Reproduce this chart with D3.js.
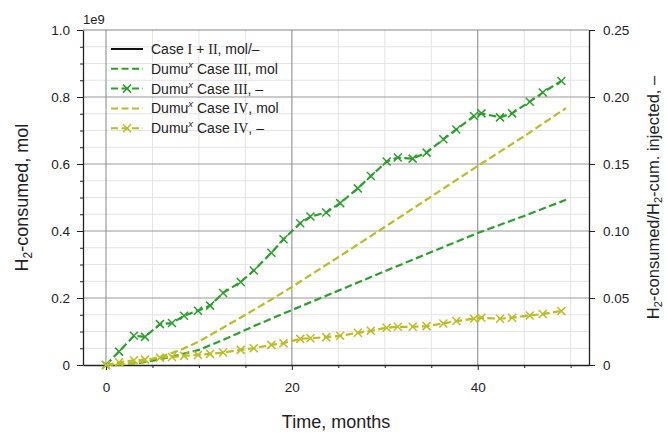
<!DOCTYPE html>
<html>
<head>
<meta charset="utf-8">
<script src="https://cdn.jsdelivr.net/npm/d3@7"></script>
<style>
  body { margin: 0; background: #fff; }
  svg { font-family: "Liberation Sans", Arial, sans-serif; }
</style>
</head>
<body>
<div id="chart"></div>
<script>
// cumulative H2 consumed (units of 1e9 mol)
const monthsMol = [0, 2, 4, 6, 8, 10, 12, 14, 16, 18, 20, 25, 30, 35, 40, 45, 49.5];
const caseIIIMol = [0, 0.002, 0.008, 0.018, 0.031, 0.045, 0.068, 0.092, 0.117, 0.141, 0.164, 0.222, 0.28, 0.337, 0.394, 0.445, 0.493];
const caseIVMol = [0, 0.003, 0.01, 0.025, 0.045, 0.07, 0.102, 0.134, 0.166, 0.199, 0.233, 0.322, 0.412, 0.503, 0.594, 0.683, 0.767];

// ratio consumed / cumulative injected
const monthsRatio = [0, 1.4, 3.0, 4.2, 5.8, 7.1, 8.4, 9.9, 11.2, 12.6, 14.5, 15.9, 17.8, 19.1, 20.9, 22.0, 23.7, 25.2, 27.1, 28.5, 30.2, 31.4, 33.0, 34.5, 36.3, 37.7, 39.6, 40.4, 42.4, 43.7, 45.6, 47.0, 49.0];
const caseIIIRatio = [0, 0.010, 0.0218, 0.021, 0.0305, 0.0313, 0.0368, 0.0405, 0.0443, 0.0538, 0.062, 0.0705, 0.0838, 0.0938, 0.1058, 0.1108, 0.1138, 0.1208, 0.1318, 0.141, 0.1518, 0.1548, 0.154, 0.1585, 0.1685, 0.1758, 0.1858, 0.1878, 0.1848, 0.1878, 0.1965, 0.2033, 0.212];
const caseIVRatio = [0, 0.002, 0.0035, 0.004, 0.0055, 0.006, 0.0068, 0.0075, 0.0083, 0.0093, 0.0113, 0.0125, 0.015, 0.0163, 0.0195, 0.02, 0.0208, 0.0218, 0.024, 0.0255, 0.0278, 0.0285, 0.0285, 0.029, 0.031, 0.0328, 0.0345, 0.0353, 0.0345, 0.0353, 0.037, 0.038, 0.0403];

const xTicks = [0, 20, 40];
const yLeftTicks = [0, 0.2, 0.4, 0.6, 0.8, 1.0];
const yRightTicks = [0, 0.05, 0.10, 0.15, 0.20, 0.25];

const GREEN = "#2ca02c", OLIVE = "#bcbd22";

var width = 667, height = 433;
var margin = { top: 30, right: 78, bottom: 68, left: 83 };

var svg = d3.select("#chart").append("svg")
  .attr("width", width)
  .attr("height", height);

var x = d3.scaleLinear().domain([-2.475, 51.975]).range([margin.left, width - margin.right]);
var yL = d3.scaleLinear().domain([0, 1]).range([height - margin.bottom, margin.top]);
var yR = d3.scaleLinear().domain([0, 0.25]).range([height - margin.bottom, margin.top]);

var x0 = x.range()[0], x1 = x.range()[1], y0 = yL.range()[0], y1 = yL.range()[1];

// grid
var minorX = d3.range(5, 52, 5).filter(d => xTicks.indexOf(d) < 0);
var minorY = d3.range(0.05, 1, 0.05).filter(d => Math.abs(d * 5 - Math.round(d * 5)) > 1e-6);

svg.append("g").selectAll("line").data(minorX).enter().append("line")
  .attr("x1", d => x(d)).attr("x2", d => x(d)).attr("y1", y0).attr("y2", y1)
  .attr("stroke", "#e4e4e4").attr("stroke-width", 1);
svg.append("g").selectAll("line").data(minorY).enter().append("line")
  .attr("y1", d => yL(d)).attr("y2", d => yL(d)).attr("x1", x0).attr("x2", x1)
  .attr("stroke", "#e4e4e4").attr("stroke-width", 1);
svg.append("g").selectAll("line").data(xTicks).enter().append("line")
  .attr("x1", d => x(d)).attr("x2", d => x(d)).attr("y1", y0).attr("y2", y1)
  .attr("stroke", "#999").attr("stroke-width", 1.2);
svg.append("g").selectAll("line").data([0.2, 0.4, 0.6, 0.8]).enter().append("line")
  .attr("y1", d => yL(d)).attr("y2", d => yL(d)).attr("x1", x0).attr("x2", x1)
  .attr("stroke", "#999").attr("stroke-width", 1.2);
// top spine
svg.append("line").attr("x1", x0).attr("x2", x1).attr("y1", y1).attr("y2", y1)
  .attr("stroke", "#888").attr("stroke-width", 1.2);

// axes
var xAxis = svg.append("g").attr("transform", "translate(0," + y0 + ")")
  .call(d3.axisBottom(x).tickValues(xTicks).tickSize(5).tickPadding(12).tickSizeOuter(0));
svg.append("g").attr("transform", "translate(0," + y0 + ")")
  .call(d3.axisBottom(x).tickValues(minorX).tickSize(3).tickFormat("").tickSizeOuter(0))
  .select(".domain").remove();

var fmtL = d => d === 0 ? "0" : d3.format(".1f")(d);
var fmtR = d => d === 0 ? "0" : d3.format(".2f")(d);
svg.append("g").attr("transform", "translate(" + x0 + ",0)")
  .call(d3.axisLeft(yL).tickValues(yLeftTicks).tickFormat(fmtL).tickSize(6).tickPadding(7).tickSizeOuter(0));
svg.append("g").attr("transform", "translate(" + x0 + ",0)")
  .call(d3.axisLeft(yL).tickValues(minorY).tickFormat("").tickSize(3).tickSizeOuter(0))
  .select(".domain").remove();
svg.append("g").attr("transform", "translate(" + x1 + ",0)")
  .call(d3.axisRight(yR).tickValues(yRightTicks).tickFormat(fmtR).tickSize(6).tickPadding(8).tickSizeOuter(0));

svg.selectAll(".tick text").attr("font-size", 13.5).attr("fill", "#222")
  .attr("font-family", "Liberation Sans, Arial, sans-serif");
svg.selectAll(".domain").attr("stroke", "#222").attr("stroke-width", 1.3);
svg.selectAll(".tick line").attr("stroke", "#222");

svg.append("text").attr("x", x0).attr("y", 24).attr("font-size", 13).attr("fill", "#222").text("1e9");

// series
var lineL = d3.line().x(d => x(d[0])).y(d => yL(d[1]));
var lineR = d3.line().x(d => x(d[0])).y(d => yR(d[1]));

function drawLine(gen, xs, ys, color, markers, scaleY) {
  var pts = xs.map((t, i) => [t, ys[i]]);
  svg.append("path").datum(pts)
    .attr("d", gen).attr("fill", "none").attr("stroke", color)
    .attr("stroke-width", 2.2).attr("stroke-dasharray", "7.5,3.5");
  if (markers) {
    svg.append("g").selectAll("path").data(pts).enter().append("path")
      .attr("d", "M-4,-4L4,4M-4,4L4,-4")
      .attr("transform", d => "translate(" + x(d[0]) + "," + scaleY(d[1]) + ")")
      .attr("stroke", color).attr("stroke-width", 1.5);
  }
}

drawLine(lineL, monthsMol, caseIIIMol, GREEN, false);
drawLine(lineR, monthsRatio, caseIIIRatio, GREEN, true, yR);
drawLine(lineL, monthsMol, caseIVMol, OLIVE, false);
drawLine(lineR, monthsRatio, caseIVRatio, OLIVE, true, yR);

// legend
var legendItems = [
  { color: "#111", dash: null, marker: false },
  { color: GREEN, dash: "7,3.5", marker: false, num: "III", unit: ", mol" },
  { color: GREEN, dash: "7,3.5", marker: true, num: "III", unit: ", \u2013" },
  { color: OLIVE, dash: "7,3.5", marker: false, num: "IV", unit: ", mol" },
  { color: OLIVE, dash: "7,3.5", marker: true, num: "IV", unit: ", \u2013" }
];
var lg = svg.append("g");
legendItems.forEach(function (d, i) {
  var yy = 49 + i * 19.8;
  lg.append("line").attr("x1", 111).attr("x2", 143).attr("y1", yy).attr("y2", yy)
    .attr("stroke", d.color).attr("stroke-width", 2)
    .attr("stroke-dasharray", d.dash);
  if (d.marker) {
    lg.append("path").attr("d", "M-4,-4L4,4M-4,4L4,-4")
      .attr("transform", "translate(127," + yy + ")")
      .attr("stroke", d.color).attr("stroke-width", 1.5);
  }
  var t = lg.append("text").attr("x", 151).attr("y", yy + 5)
    .attr("font-size", 14).attr("fill", "#222");
  if (i === 0) {
    t.append("tspan").text("Case ");
    t.append("tspan").attr("font-family", "Liberation Serif, serif").text("I");
    t.append("tspan").text(" + ");
    t.append("tspan").attr("font-family", "Liberation Serif, serif").text("II");
    t.append("tspan").text(", mol/\u2013");
  } else {
    t.append("tspan").text("Dumu");
    t.append("tspan").attr("font-size", 9.5).attr("font-style", "italic").attr("dy", -6).text("x");
    t.append("tspan").attr("dy", 6).text(" Case ");
    t.append("tspan").attr("font-family", "Liberation Serif, serif").text(d.num);
    t.append("tspan").text(d.unit);
  }
});

// axis labels
svg.append("text").attr("x", 336).attr("y", 428).attr("text-anchor", "middle")
  .attr("font-size", 18).attr("fill", "#222").text("Time, months");

var ly = svg.append("text").attr("transform", "translate(28," + (y0 + y1) / 2 + ") rotate(-90)")
  .attr("text-anchor", "middle").attr("font-size", 18).attr("fill", "#222");
ly.append("tspan").text("H");
ly.append("tspan").attr("font-size", 12).attr("dy", 4).text("2");
ly.append("tspan").attr("dy", -4).text("-consumed, mol");

var ry = svg.append("text").attr("transform", "translate(659," + (y0 + y1) / 2 + ") rotate(-90)")
  .attr("text-anchor", "middle").attr("font-size", 16.5).attr("fill", "#222");
ry.append("tspan").text("H");
ry.append("tspan").attr("font-size", 11).attr("dy", 3).text("2");
ry.append("tspan").attr("dy", -3).text("-consumed/H");
ry.append("tspan").attr("font-size", 11).attr("dy", 3).text("2");
ry.append("tspan").attr("dy", -3).text("-cum. injected, \u2013");
</script>
</body>
</html>
